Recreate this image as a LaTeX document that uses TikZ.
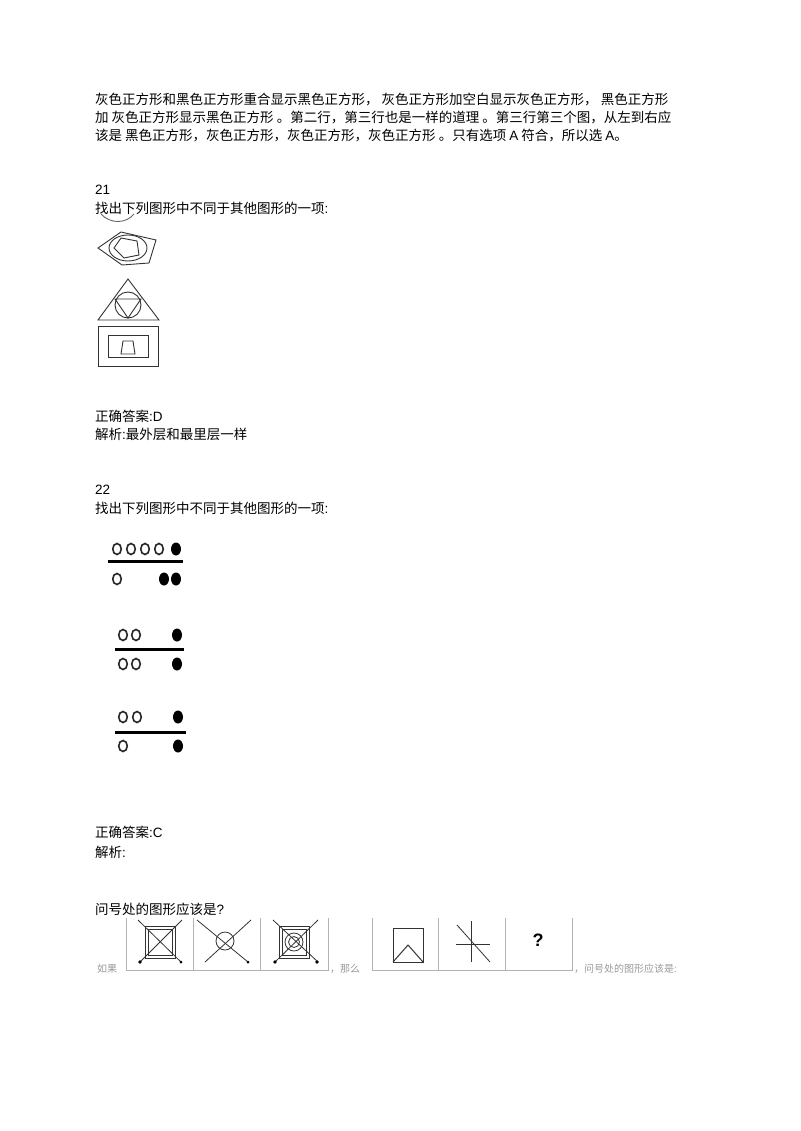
\documentclass[tikz,border=0pt]{standalone}
\usepackage{fontspec}
\setmainfont{Noto Sans CJK SC}
\newfontfamily\lat{Liberation Sans}
\begin{document}
\begin{tikzpicture}[x=1pt,y=-1pt,
  txt/.style={anchor=west,inner sep=0pt,font=\fontsize{13.5}{16}\selectfont},
  sm/.style={anchor=west,inner sep=0pt,text=gray!80,font=\fontsize{10}{12}\selectfont},
  fig/.style={draw=black!80,line width=0.9pt},
  ho/.style={draw=black!85,line width=1.6pt},
  fr/.style={draw=gray!60,line width=0.8pt},
  ln/.style={draw=black!80,line width=0.8pt}]
\useasboundingbox (0,0) rectangle (800,1131);
\node[txt] (t1) at (95,100) {灰色正方形和黑色正方形重合显示黑色正方形，\ 灰色正方形加空白显示灰色正方形，\ 黑色正方形};
\node[txt] (t2) at (95,118) {加 灰色正方形显示黑色正方形 。第二行，第三行也是一样的道理 。第三行第三个图，从左到右应};
\node[txt] (t3) at (95,136) {该是 黑色正方形，灰色正方形，灰色正方形，灰色正方形 。只有选项 {\lat A} 符合，所以选 {\lat A}。};
\node[txt] (n21) at (95,190) {\lat 21};
\node[txt] (q21) at (95,208) {找出下列图形中不同于其他图形的一项{\lat :}};
\draw[fig,black!60] (101,214) .. controls (110,224) and (126,224) .. (134,214);
% pentagon figure
\draw[fig] (98,248) -- (121,232) -- (156,240) -- (149,263) -- (122,265) -- cycle;
\draw[fig] (128,248) ellipse (19 and 13);
\draw[fig] (114,248) -- (121,238) -- (137,241) -- (139,255) -- (124,258) -- cycle;
% triangle figure
\draw[fig] (128,279) -- (159,320) -- (98,320) -- cycle;
\draw[fig] (128,305) circle (13);
\draw[fig] (115,299) -- (141,299) -- (128,318) -- cycle;
% rectangle figure
\draw[fig] (98,326) rectangle (158,366);
\draw[fig] (108,335) rectangle (148,357);
\draw[fig] (123,341) -- (133,341) -- (135,354) -- (121,354) -- cycle;
\node[txt] (a21) at (95,416) {正确答案{\lat :D}};
\node[txt] (e21) at (95,434) {解析{\lat :}最外层和最里层一样};
\node[txt] (n22) at (95,490) {\lat 22};
\node[txt] (q22) at (95,508) {找出下列图形中不同于其他图形的一项{\lat :}};
% group 1
\foreach \x in {117,131,145,159} \draw[ho] (\x,549) ellipse (4.3 and 5.5);
\fill (176,549) ellipse (5 and 6.5);
\draw[line width=3pt] (108,561) -- (183,561);
\draw[ho] (117,579) ellipse (4.3 and 5.5);
\fill (164,579) ellipse (5 and 6.5);
\fill (176,579) ellipse (5 and 6.5);
% group 2
\foreach \x in {123,136} {\draw[ho] (\x,635) ellipse (4.3 and 5.5); \draw[ho] (\x,664) ellipse (4.3 and 5.5);}
\fill (177,635) ellipse (5 and 6.5);
\fill (177,664) ellipse (5 and 6.5);
\draw[line width=3pt] (115,649) -- (184,649);
% group 3
\foreach \x in {123,137} \draw[ho] (\x,717) ellipse (4.3 and 5.5);
\draw[ho] (123,746) ellipse (4.3 and 5.5);
\fill (178,717) ellipse (5 and 6.5);
\fill (178,746) ellipse (5 and 6.5);
\draw[line width=3pt] (115,732) -- (186,732);
\node[txt] (a22) at (95,832) {正确答案{\lat :C}};
\node[txt] (e22) at (95,852) {解析{\lat :}};
\node[txt] (q) at (95,909) {问号处的图形应该是{\lat ?}};
% frames
\draw[fr] (126,918) -- (126,970) -- (328,970) -- (328,918);
\draw[fr] (193,918) -- (193,970) (260,918) -- (260,970);
\draw[fr] (372,918) -- (372,970) -- (572,970) -- (572,918);
\draw[fr] (438,918) -- (438,970) (505,918) -- (505,970);
\node[sm] (ru) at (97,969) {如果};
\node[sm] (nm) at (330,969) {，那么};
\node[sm] (wh) at (574,969) {，问号处的图形应该是{\lat :}};
% box1
\draw[ln] (145,926) rectangle (175,958);
\draw[ln] (148,929) rectangle (172,955);
\draw[ln] (138,920) -- (181,962);
\draw[ln] (182,920) -- (140,962);
\fill (140,962) circle (1.8); \fill (181,962) circle (1.5);
% box2
\draw[ln] (197,920) -- (248,962);
\draw[ln] (251,920) -- (205,962);
\draw[ln] (225,941) circle (9);
\fill (248,962) circle (1.5);
% box3
\draw[ln] (279,926) rectangle (309,958);
\draw[ln] (282,929) rectangle (306,955);
\draw[ln] (294,942) circle (9) (294,942) circle (5.5);
\draw[ln] (273,920) -- (318,962);
\draw[ln] (318,920) -- (275,962);
\fill (275,962) circle (1.8); \fill (317,962) circle (1.8);
% box4
\draw[ln,line width=1pt] (393,928) rectangle (423,962);
\draw[ln,line width=1pt] (393,962) -- (408,945) -- (423,962);
% box5
\draw[ln] (456,944) -- (490,944);
\draw[ln] (471,921) -- (471,962);
\draw[ln] (457,925) -- (490,962);
% box6
\node[inner sep=0pt,font=\bfseries\fontsize{18}{20}\selectfont] (qm) at (538,940) {\lat ?};
\end{tikzpicture}
\end{document}
